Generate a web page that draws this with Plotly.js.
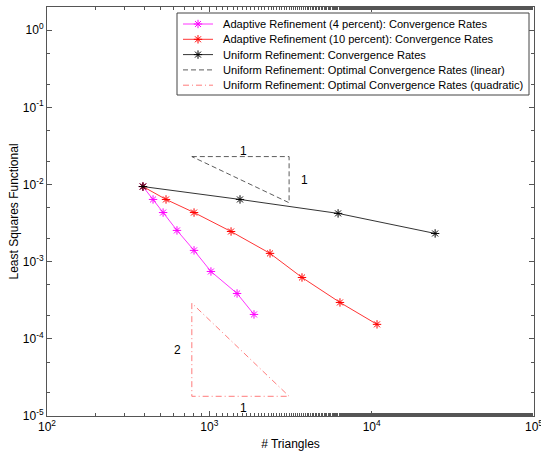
<!DOCTYPE html>
<html>
<head>
<meta charset="utf-8">
<script src="https://cdn.plot.ly/plotly-3.0.1.min.js"></script>
<style>html,body{margin:0;padding:0;background:#fff;}#chart{width:541px;height:456px;}</style>
</head>
<body>
<div id="chart"></div>
<script>
// Adaptive refinement (4 percent)
var adapt4Triangles = [390, 450, 519, 632, 805, 1023, 1482, 1884];
var adapt4Error     = [0.0094, 0.0064, 0.00433, 0.00254, 0.0014, 0.000746, 0.000387, 0.000207];
// Adaptive refinement (10 percent)
var adapt10Triangles = [390, 541, 805, 1361, 2365, 3722, 6380, 10790];
var adapt10Error     = [0.0094, 0.0064, 0.00433, 0.00246, 0.00128, 0.000624, 0.000296, 0.000154];
// Uniform refinement
var uniformTriangles = [390, 1545, 6210, 24600];
var uniformError     = [0.0094, 0.0064, 0.00422, 0.00232];
// Optimal rate reference triangles
var linTriX  = [780, 3100, 3100, 780];
var linTriY  = [0.023, 0.023, 0.0058, 0.023];
var quadTriX = [780, 780, 3100, 780];
var quadTriY = [0.00029, 0.000018, 0.000018, 0.00029];
// Triangle labels
var triLabelText = ['1', '1', '2', '1'];
var triLabelX    = [1615, 3830, 640, 1615];
var triLabelY    = [0.0275, 0.0116, 0.000071, 0.0000126];
// Legend labels
var seriesNames = [
  'Adaptive Refinement (4 percent): Convergence Rates',
  'Adaptive Refinement (10 percent): Convergence Rates',
  'Uniform Refinement: Convergence Rates',
  'Uniform Refinement: Optimal Convergence Rates (linear)',
  'Uniform Refinement: Optimal Convergence Rates (quadratic)'
];
// Tick labels
var xTickVals = [100, 1000, 10000, 100000];
var xTickText = ['10<sup>2</sup>', '10<sup>3</sup>', '10<sup>4</sup>', '10<sup>5</sup>'];
var yTickVals = [1e-5, 1e-4, 1e-3, 1e-2, 1e-1, 1];
var yTickText = ['10<sup>-5</sup>', '10<sup>-4</sup>', '10<sup>-3</sup>', '10<sup>-2</sup>', '10<sup>-1</sup>', '10<sup>0</sup>'];

var FONT = 'Liberation Sans, Arial, Helvetica, sans-serif';

var styles = [
  {color: '#ff00ff', dash: 'solid', marker: true},
  {color: '#ff0000', dash: 'solid', marker: true},
  {color: '#000000', dash: 'solid', marker: true},
  {color: '#333333', dash: '5px,3px', marker: false},
  {color: '#ff5a5a', dash: '6px,3px,1px,3px', marker: false}
];
var seriesX = [adapt4Triangles, adapt10Triangles, uniformTriangles, linTriX, quadTriX];
var seriesY = [adapt4Error, adapt10Error, uniformError, linTriY, quadTriY];

var traces = seriesX.map(function (xs, i) {
  var s = styles[i];
  var t = {x: xs, y: seriesY[i], name: seriesNames[i], showlegend: false,
           mode: s.marker ? 'lines+markers' : 'lines',
           line: {color: s.color, width: 0.8, dash: s.dash}};
  if (s.marker) t.marker = {symbol: 'asterisk-open', size: 7, color: s.color, line: {color: s.color, width: 1}};
  return t;
});

// Plot area geometry (pixels) for the hand-built legend
var L = 47, T = 7, W = 487, H = 409;
function px(x) { return (x - L) / W; }
function py(y) { return 1 - (y - T) / H; }
var legLeft = 177, legRight = 529, legTop = 13, legBottom = 95;
var rowY0 = 24, rowStep = 15.3, lineX0 = 183, lineX1 = 213, textX = 221;

var shapes = [{type: 'rect', xref: 'paper', yref: 'paper', x0: px(legLeft), x1: px(legRight),
               y0: py(legBottom), y1: py(legTop), fillcolor: '#fff', line: {color: '#444', width: 1}, layer: 'below'}];
var annotations = triLabelText.map(function (t, i) {
  return {x: Math.log10(triLabelX[i]), y: Math.log10(triLabelY[i]), xref: 'x', yref: 'y',
          text: t, showarrow: false, font: {family: FONT, size: 12, color: '#000'}};
});
seriesNames.forEach(function (name, i) {
  var yy = py(rowY0 + i * rowStep);
  shapes.push({type: 'line', xref: 'paper', yref: 'paper', x0: px(lineX0), x1: px(lineX1), y0: yy, y1: yy,
               line: {color: styles[i].color, width: 0.8, dash: styles[i].dash}, layer: 'above'});
  annotations.push({xref: 'paper', yref: 'paper', x: px(textX), y: yy, xanchor: 'left', yanchor: 'middle',
                    text: name, showarrow: false, font: {family: FONT, size: 11.1, color: '#000'}});
  if (styles[i].marker) {
    traces.push({x: [px((lineX0 + lineX1) / 2)], y: [yy], xaxis: 'x2', yaxis: 'y2', mode: 'markers',
                 showlegend: false, hoverinfo: 'skip', cliponaxis: false,
                 marker: {symbol: 'asterisk-open', size: 7, color: styles[i].color,
                          line: {color: styles[i].color, width: 1}}});
  }
});

var axisCommon = {
  type: 'log', showgrid: false, zeroline: false, showline: true, linecolor: '#555', linewidth: 1,
  mirror: 'ticks', ticks: 'inside', ticklen: 5, tickcolor: '#555', tickwidth: 1,
  ticklabeloverflow: 'allow',
  tickfont: {family: FONT, size: 12, color: '#000'},
  minor: {ticks: 'inside', ticklen: 3, tickcolor: '#555', tickwidth: 1, showgrid: false}
};

var layout = {
  width: 541, height: 456,
  margin: {l: L, r: 541 - L - W, t: T, b: 456 - T - H},
  paper_bgcolor: '#fff', plot_bgcolor: '#fff',
  showlegend: false,
  xaxis: Object.assign({}, axisCommon, {range: [1.99999, 5.00001], tickvals: xTickVals, ticktext: xTickText,
           title: {text: '# Triangles', font: {family: FONT, size: 12, color: '#000'}, standoff: 6}}),
  yaxis: Object.assign({}, axisCommon, {range: [-5.00001, 0.3], tickvals: yTickVals, ticktext: yTickText,
           title: {text: 'Least Squares Functional', font: {family: FONT, size: 12, color: '#000'}, standoff: 1}}),
  xaxis2: {overlaying: 'x', range: [0, 1], visible: false, fixedrange: true},
  yaxis2: {overlaying: 'y', range: [0, 1], visible: false, fixedrange: true},
  shapes: shapes,
  annotations: annotations
};

Plotly.newPlot('chart', traces, layout, {displayModeBar: false, staticPlot: true});
</script>
</body>
</html>
